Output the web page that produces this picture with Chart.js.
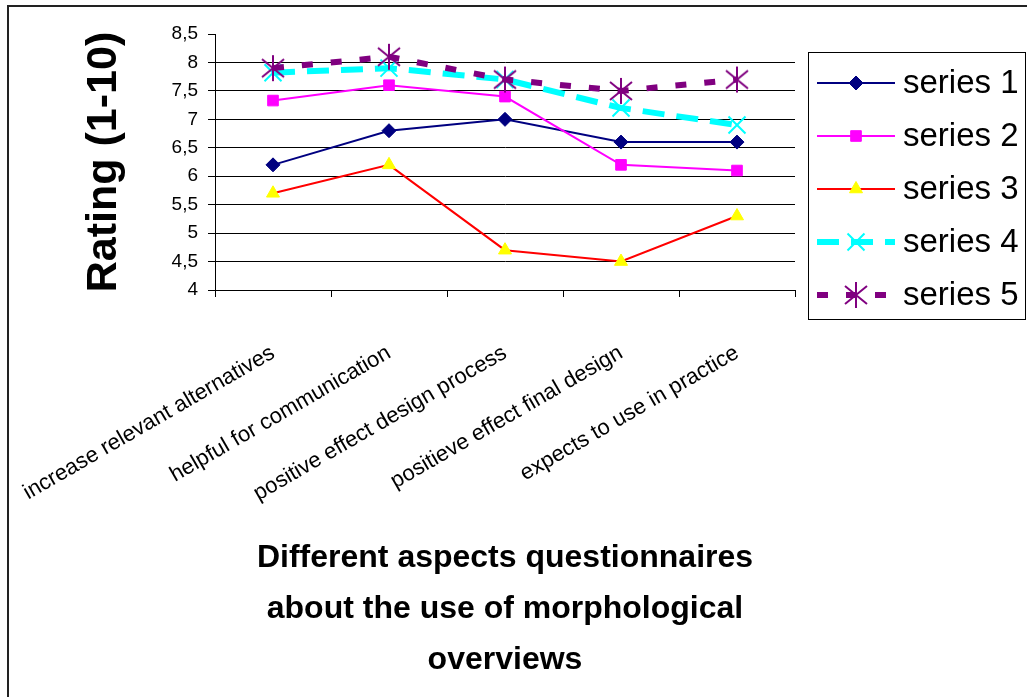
<!DOCTYPE html>
<html><head><meta charset="utf-8">
<script src="https://cdn.jsdelivr.net/npm/chart.js@4/dist/chart.umd.min.js"></script>
<style>html,body{margin:0;padding:0;background:#fff;}canvas{display:block;}</style>
</head><body>
<canvas id="c" width="1027" height="697"></canvas>
<script>
// ---- data ----
const categories = [
  'increase relevant alternatives',
  'helpful for communication',
  'positive effect design process',
  'positieve effect final design',
  'expects to use in practice'
];
const seriesNames = ['series 1', 'series 2', 'series 3', 'series 4', 'series 5'];
const series1 = [6.2, 6.8, 7.0, 6.6, 6.6];
const series2 = [7.33, 7.6, 7.4, 6.2, 6.1];
const series3 = [5.7, 6.2, 4.7, 4.5, 5.3];
const series4 = [7.82, 7.9, 7.7, 7.2, 6.9];
const series5 = [7.9, 8.1, 7.7, 7.5, 7.7];
const yTickLabels = ['4', '4,5', '5', '5,5', '6', '6,5', '7', '7,5', '8', '8,5'];
const yTitle = 'Rating (1-10)';
const xTitleLines = ['Different aspects questionnaires', 'about the use of morphological', 'overviews'];

const FONT = '"Liberation Sans", Arial, sans-serif';
Chart.defaults.font.family = FONT;
Chart.defaults.color = '#000';

// asterisk marker (vertical bar + X)
function makeStar(color) {
  const c = document.createElement('canvas');
  c.width = 28; c.height = 28;
  const g = c.getContext('2d');
  g.strokeStyle = color; g.lineWidth = 2;
  g.beginPath();
  g.moveTo(14, 1); g.lineTo(14, 27);
  g.moveTo(3, 5); g.lineTo(25, 23);
  g.moveTo(3, 23); g.lineTo(25, 5);
  g.stroke();
  return c;
}
const starImg = makeStar('#800080');

const framePlugin = {
  id: 'frame',
  beforeDraw(chart) {
    const ctx = chart.ctx;
    ctx.save();
    ctx.fillStyle = '#fff';
    ctx.fillRect(0, 0, chart.width, chart.height);
    ctx.strokeStyle = '#222';
    ctx.lineWidth = 2;
    ctx.strokeRect(8, 6, 1300, 900);
    ctx.restore();
  }
};

const legendPlugin = {
  id: 'boxLegend',
  afterDraw(chart) {
    const ctx = chart.ctx;
    const L = 808, T = 52, R = 1026, B = 319;
    ctx.save();
    ctx.fillStyle = '#fff';
    ctx.fillRect(L, T, R - L, B - T);
    ctx.strokeStyle = '#000';
    ctx.lineWidth = 1;
    ctx.strokeRect(L + 0.5, T + 0.5, R - L - 1, B - T);
    chart.data.datasets.forEach((ds, i) => {
      const y = T + 31 + i * 53;
      ctx.save();
      ctx.strokeStyle = ds.borderColor;
      ctx.lineWidth = ds.borderWidth;
      ctx.setLineDash(ds.borderDash || []);
      ctx.beginPath();
      ctx.moveTo(817, y); ctx.lineTo(895, y);
      ctx.stroke();
      ctx.restore();
      ctx.save();
      ctx.fillStyle = ds.pointBackgroundColor;
      ctx.strokeStyle = ds.pointBorderColor;
      ctx.lineWidth = ds.pointBorderWidth;
      Chart.helpers.drawPoint(ctx, {pointStyle: ds.pointStyle, radius: ds.pointRadius, borderWidth: ds.pointBorderWidth, rotation: 0}, 856, y);
      ctx.restore();
      ctx.fillStyle = '#000';
      ctx.font = '33px ' + FONT;
      ctx.textBaseline = 'middle';
      ctx.textAlign = 'left';
      ctx.fillText(ds.label, 903, y + 1);
    });
    ctx.restore();
  }
};

new Chart(document.getElementById('c'), {
  type: 'line',
  data: {
    labels: categories,
    datasets: [
      {label: seriesNames[0], data: series1, borderColor: '#000080', borderWidth: 2,
       pointStyle: 'rectRot', pointRadius: 7, pointBackgroundColor: '#000080', pointBorderColor: '#000080', pointBorderWidth: 1, order: 5},
      {label: seriesNames[1], data: series2, borderColor: '#FF00FF', borderWidth: 2,
       pointStyle: 'rect', pointRadius: 7.5, pointBackgroundColor: '#FF00FF', pointBorderColor: '#FF00FF', pointBorderWidth: 1, order: 4},
      {label: seriesNames[2], data: series3, borderColor: '#FF0000', borderWidth: 2,
       pointStyle: 'triangle', pointRadius: 7.5, pointBackgroundColor: '#FFFF00', pointBorderColor: '#FFFF00', pointBorderWidth: 1, order: 3},
      {label: seriesNames[3], data: series4, borderColor: '#00FFFF', borderWidth: 6, borderDash: [22, 12],
       pointStyle: 'crossRot', pointRadius: 12, pointBackgroundColor: '#00FFFF', pointBorderColor: '#00FFFF', pointBorderWidth: 2, order: 2},
      {label: seriesNames[4], data: series5, borderColor: '#800080', borderWidth: 6, borderDash: [11, 18],
       pointStyle: starImg, pointRadius: 13, pointBackgroundColor: '#800080', pointBorderColor: '#800080', pointBorderWidth: 2, order: 1}
    ]
  },
  options: {
    responsive: false,
    animation: false,
    layout: {padding: {top: 34, right: 232, bottom: 0, left: 0}},
    plugins: {legend: {display: false}, tooltip: {enabled: false}},
    elements: {line: {tension: 0}},
    scales: {
      x: {
        offset: true,
        grid: {offset: true, drawOnChartArea: false, color: '#000', tickLength: 7},
        border: {color: '#000', width: 1},
        ticks: {autoSkip: false, maxRotation: 30, minRotation: 30, padding: 43, color: '#000',
                font: {family: FONT, size: 22}},
        title: {display: true, text: xTitleLines, color: '#000',
                font: {family: FONT, size: 32, weight: 'bold', lineHeight: 1.6},
                padding: {top: 0, bottom: 11}},
        afterFit(s) { s.height = 407; s.paddingLeft = 0; s.paddingRight = 0; }
      },
      y: {
        min: 4, max: 8.5,
        ticks: {stepSize: 0.5, padding: 10, color: '#000', font: {family: FONT, size: 19},
                callback: (v, i) => yTickLabels[i]},
        grid: {color: c => (c.tick && c.tick.value === 8.5) ? 'rgba(0,0,0,0)' : '#000',
               tickColor: '#000', tickLength: 7},
        border: {color: '#000', width: 1},
        title: {display: true, text: yTitle, color: '#000',
                font: {family: FONT, size: 43, weight: 'bold', lineHeight: 1},
                padding: {top: 83, bottom: 0}},
        afterFit(s) { s.width = 215; }
      }
    }
  },
  plugins: [framePlugin, legendPlugin]
});
</script>
</body></html>
